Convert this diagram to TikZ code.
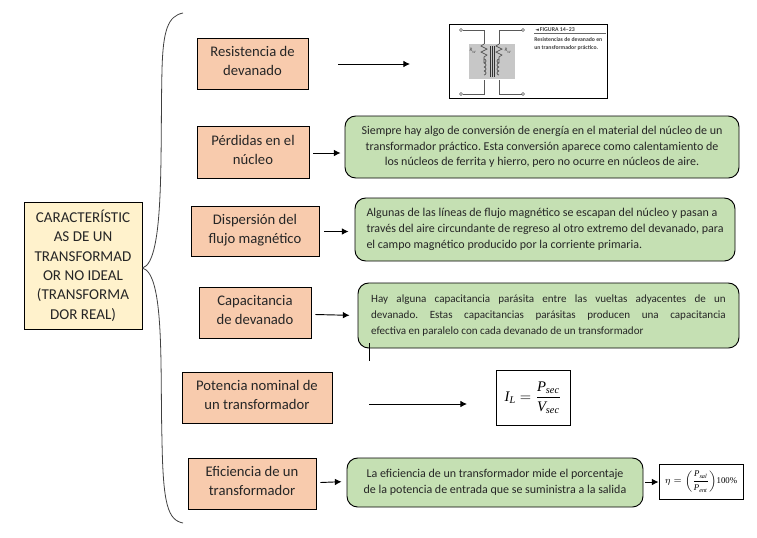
\documentclass[tikz,border=0pt]{standalone}
\usepackage{fontspec}
\setmainfont{Carlito}
\newfontfamily\symfont{DejaVu Sans}
\newfontfamily\formfont{Liberation Serif}
\usepackage{amsmath}
\usetikzlibrary{arrows, arrows.meta}
\usetikzlibrary{calc}
\definecolor{mainfill}{HTML}{FFF2CC}
\definecolor{itemfill}{HTML}{F8CBAD}
\definecolor{notefill}{HTML}{C5E0B3}
\newcommand{\fullline}[1]{\makebox[266pt][s]{#1}}
\newcommand{\formvar}[1]{\text{\formfont\itshape #1}}
\frenchspacing
\tikzset{
  mainbox/.style={draw, fill=mainfill, line width=0.7pt, inner sep=0pt, align=center, text=black!85, font=\fontsize{11.3}{14.5}\selectfont},
  itembox/.style={draw, fill=itemfill, line width=0.7pt, inner sep=0pt, align=center, text=black!85, text depth=3.5pt, font=\fontsize{11}{14}\selectfont},
  notebox/.style={draw, fill=notefill, line width=0.7pt, inner sep=0pt, rounded corners=8pt, align=center, text=black!85, font=\fontsize{9}{11.8}\selectfont},
  picbox/.style={draw, fill=white, line width=0.7pt, inner sep=0pt},
  link/.style={-{Latex[length=5pt,width=5pt]}, line width=0.7pt}
}
\begin{document}
\begin{tikzpicture}[x=0.75pt, y=-0.75pt]
    \useasboundingbox (0,0) rectangle (757,537);

    \node[mainbox, minimum width=88.5pt, minimum height=95.25pt] (main) at (83,265.5) {CARACTERÍSTIC\\AS DE UN\\TRANSFORMAD\\OR NO IDEAL\\(TRANSFORMA\\DOR REAL)};

    \node[itembox, minimum width=83.25pt, minimum height=38.25pt] (res) at (252.5,63.5) {Resistencia de\\devanado};
    \node[itembox, minimum width=84pt, minimum height=39pt] (per) at (253,152) {Pérdidas en el\\núcleo};
    \node[itembox, minimum width=96pt, minimum height=37.5pt] (dis) at (255,231) {Dispersión del\\flujo magnético};
    \node[itembox, minimum width=84pt, minimum height=38.25pt] (cap) at (255,312.5) {Capacitancia\\de devanado};
    \node[itembox, minimum width=112.5pt, minimum height=38.25pt] (pot) at (257,397.5) {Potencia nominal de\\un transformador};
    \node[itembox, minimum width=96pt, minimum height=38.25pt] (efi) at (252,483.5) {Eficiencia de un\\transformador};

    \node[notebox, minimum width=295.5pt, minimum height=46.5pt] (nper) at (542,147) {Siempre hay algo de conversión de energía en el material del núcleo de un\\transformador práctico. Esta conversión aparece como calentamiento de\\los núcleos de ferrita y hierro, pero no ocurre en núcleos de aire.};
    \node[notebox, minimum width=285pt, minimum height=47.25pt, align=left] (ndis) at (545,229.5) {Algunas de las líneas de flujo magnético se escapan del núcleo y pasan a\\través del aire circundante de regreso al otro extremo del devanado, para\\el campo magnético producido por la corriente primaria.};
    \node[notebox, minimum width=285.75pt, minimum height=48.75pt, align=left, font=\fontsize{8.3}{12}\selectfont] (ncap) at (548.5,315.5) {\fullline{Hay alguna capacitancia parásita entre las vueltas adyacentes de un}\\\fullline{devanado. Estas capacitancias parásitas producen una capacitancia}\\efectiva en paralelo con cada devanado de un transformador};
    \node[notebox, minimum width=222pt, minimum height=36.75pt] (nefi) at (495,482.5) {La eficiencia de un transformador mide el porcentaje\\de la potencia de entrada que se suministra a la salida};

    % figura del transformador
    \node[picbox, minimum width=118.5pt, minimum height=55.5pt] (fig) at (528,61) {};
    \fill[black!22] (469,44) rectangle (515,79);
    \draw[black!65, line width=0.4pt] (461,30) circle (1.5) (523,30) circle (1.5) (461,94) circle (1.5) (523,94) circle (1.5);
    \draw[black!65, line width=0.5pt] (462.5,30) -- (484,30) -- (484,44) (484,80) -- (484,94) -- (462.5,94);
    \draw[black!65, line width=0.5pt] (521.5,30) -- (499,30) -- (499,44) (499,80) -- (499,94) -- (521.5,94);
    \draw[black!70, line width=0.5pt] (484,44) -- (481,46) -- (487,49) -- (481,52) -- (487,55) -- (484,57) -- (484,63);
    \draw[black!70, line width=0.5pt] (499,44) -- (496,46) -- (502,49) -- (496,52) -- (502,55) -- (499,57) -- (499,63);
    \foreach \yy in {63,67,71,75} {
      \draw[black!70, line width=0.5pt] (484,\yy) arc[start angle=90, end angle=-90, radius=2];
      \draw[black!70, line width=0.5pt] (499,\yy) arc[start angle=90, end angle=270, radius=2];
    }
    \draw[black!80, line width=0.6pt] (490,46) -- (490,77) (492,46) -- (492,77) (494,46) -- (494,77);
    \node[font=\fontsize{3.8}{4}\selectfont\itshape, inner sep=0pt, text=black!75] (rw1) at (473,51) {R\textsubscript{W}};
    \node[font=\fontsize{3.8}{4}\selectfont\itshape, inner sep=0pt, text=black!75] (rw2) at (508,51) {R\textsubscript{W}};
    \node[anchor=north west, inner sep=0pt, align=left, font=\fontsize{4.4}{5.6}\selectfont\bfseries, text=black!75] (cap14) at (535,27.5) {{\symfont\fontsize{3.6}{4}\selectfont ◄}\,FIGURA 14–23};
    \draw[black!60, line width=0.3pt] (534,33.5) -- (606,33.5);
    \node[anchor=north west, inner sep=0pt, align=left, font=\fontsize{4.3}{6.4}\selectfont\bfseries, text=black!75] (txt14) at (534,37) {Resistencias de devanado en\\un transformador práctico.};

    % formulas
    \node[picbox, minimum width=55.5pt, minimum height=41.25pt, font=\fontsize{11}{13}\selectfont] (fil) at (533,397.5) {$\formvar{I}_{\formvar{L}}=\dfrac{\formvar{P}_{\formvar{sec}}}{\formvar{V}_{\formvar{sec}}}$};
    \node[picbox, minimum width=63pt, minimum height=26.25pt, font=\fontsize{6.6}{8}\selectfont] (feta) at (701,481.5) {$\eta=\left(\dfrac{\formvar{P}_{\formvar{sal}}}{\formvar{P}_{\formvar{ent}}}\right)\!\text{\formfont 100\%}$};

    % llave
    \draw[line width=0.6pt, black!75] (183,13) .. controls (168,16) and (163,30) .. (162,70) .. controls (160,150) and (165,262) .. (main.east |- 0,268);
    \draw[line width=0.6pt, black!75] (183,523) .. controls (168,520) and (163,505) .. (162,440) .. controls (160,370) and (165,274) .. (main.east |- 0,268);

    % flechas
    \coordinate (res-r) at (338,64);
    \coordinate (res-f) at (410,64);
    \coordinate (pot-r) at (369,404);
    \coordinate (pot-f) at (467,404);
    \coordinate (stub-a) at (369,343);
    \coordinate (stub-b) at (369,361);
    \draw[link] (res-r) -- (res-f);
    \draw[link, shorten >=3pt] (per.east |- 0,153) ++(4,0) -- (nper.west |- 0,153);
    \draw[link, shorten >=4.5pt] (dis.east |- 0,231.5) ++(5,0) -- (ndis.west |- 0,231.5);
    \draw[link, shorten >=6pt] (cap.east |- 0,314.5) ++(4,0) -- (ncap.west |- 0,315.5);
    \draw[link] (pot-r) -- (pot-f);
    \draw[link, shorten >=3.75pt] (efi.east |- 0,482.5) ++(4,0) -- (nefi.west |- 0,481.5);
    \draw[link] (nefi.east |- 0,482) ++(2,0) -- (feta.west |- 0,482);
    \draw[line width=0.7pt] (stub-a) -- (stub-b);
\end{tikzpicture}
\end{document}
